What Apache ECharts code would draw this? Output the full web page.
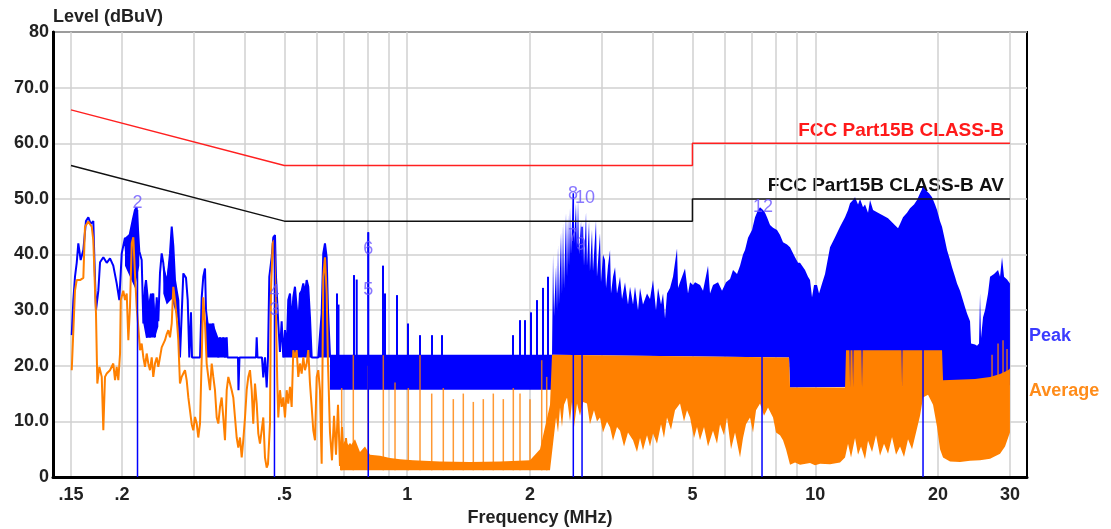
<!DOCTYPE html>
<html>
<head>
<meta charset="utf-8">
<style>
html,body{margin:0;padding:0;background:#fff}
#main{width:1111px;height:529px}
</style>
<script src="https://cdn.jsdelivr.net/npm/echarts@6/dist/echarts.min.js"></script>
</head>
<body>
<div id="main"></div>
<script>
// limit lines (FCC Part15B class B, QP and AV)
const limitFreq = [0.15, 0.5, 5, 5, 30];
const qpLimit = [66, 56, 56, 60, 60];
const avLimit = [56, 46, 46, 50, 50];

// x axis grid lines and labels (MHz)
const gridFreq = [0.15, 0.2, 0.3, 0.4, 0.5, 0.6, 0.7, 0.8, 0.9, 1, 2, 3, 4, 5, 6, 7, 8, 9, 10, 20, 30];
const labelFreq = [0.15, 0.2, 0.5, 1, 2, 5, 10, 20, 30];

// Peak trace, low band part [MHz, dBuV]
const peakTrace = [[0.1506,25.5],[0.1520,31.8],[0.1534,36],[0.1549,38.5],[0.1563,42],[0.1584,39],[0.1608,40.8],[0.1632,46],[0.1654,46.7],[0.1676,45.5],[0.1701,46],[0.1711,39.5],[0.1727,30],[0.1750,33.5],[0.1767,38.6],[0.1800,39.5],[0.1835,38.5],[0.1869,39.3],[0.1904,38],[0.1941,34.8],[0.1970,31.8],[0.1997,40.2],[0.2034,43],[0.2054,38.5],[0.2092,43.8],[0.2125,46.2],[0.2152,48],[0.2173,48.5],[0.2205,40.6],[0.2235,39],[0.2256,27.6],[0.2277,34],[0.2290,35.4],[0.2320,31],[0.2342,25.1],[0.2365,30],[0.2386,33],[0.2409,25.1],[0.2433,32.3],[0.2455,28],[0.2478,36.6],[0.2502,40.2],[0.2525,38.5],[0.2549,34.8],[0.2574,33.5],[0.2597,37],[0.2622,40.2],[0.2648,45],[0.2672,41.5],[0.2697,35.4],[0.2723,33.5],[0.2748,31.8],[0.2774,21.5],[0.2827,36.6],[0.2870,35.8],[0.2898,31.8],[0.2924,21.5],[0.2935,21.5],[0.2952,29.6],[0.2969,21.5],[0.3106,21.5],[0.3136,32.3],[0.3164,36],[0.3195,37.5],[0.3213,30],[0.3255,26.4],[0.3286,23.3],[0.3348,27.6],[0.3380,23.3],[0.3413,25.1],[0.3444,21.5],[0.3477,25.1],[0.3510,23.3],[0.3542,25.1],[0.3576,21.5],[0.3611,25.1],[0.3627,21.5],[0.3848,21.5],[0.3859,15.6],[0.3881,21.5],[0.4260,21.5],[0.4277,25.1],[0.4296,21.5],[0.4406,21.5],[0.4439,17.9],[0.4482,21.5],[0.4525,16.1],[0.4558,21.5],[0.4592,36],[0.4654,39.5],[0.4697,43.1],[0.4742,43.5],[0.4769,36],[0.4831,27.6],[0.4877,22.5],[0.4924,28],[0.4969,21.5],[0.5017,26.4],[0.5065,22.5],[0.5111,31.8],[0.5161,33],[0.5210,27.6],[0.5258,32.3],[0.5308,34.2],[0.5359,30.5],[0.5408,27.6],[0.5460,33],[0.5513,33.5],[0.5563,34.8],[0.5616,33],[0.5670,35.4],[0.5722,34.2],[0.5777,28.7],[0.5833,21.5],[0.6054,21.5],[0.6112,25.5],[0.6171,29.4],[0.6227,40.2],[0.6287,42],[0.6348,39.5],[0.6395,30],[0.6467,21.9]];

// dense patches of the Peak trace below 0.4 MHz: upper and lower edges
const peakPatchTopA = [[0.2034,43],[0.2092,43.8],[0.2125,46.2],[0.2152,48],[0.2173,48.5],[0.2205,40.6]];
const peakPatchBotA = [[0.2034,38],[0.2092,36],[0.2152,34],[0.2205,38]];
const peakPatchTopB = [[0.2256,27.6],[0.2277,34],[0.2290,35.4],[0.2320,31],[0.2342,33],[0.2386,33],[0.2409,30],[0.2433,32.3],[0.2455,30]];
const peakPatchBotB = [[0.2256,27.6],[0.2290,25],[0.2342,25.1],[0.2409,25.1],[0.2455,27]];
const peakPatchTopC = [[0.2525,38.5],[0.2574,36],[0.2622,40.2],[0.2648,45],[0.2672,41.5],[0.2697,35.4],[0.2748,31.8]];
const peakPatchBotC = [[0.2525,33],[0.2574,31],[0.2648,32],[0.2748,28]];
const peakPatchTopD = [[0.3213,30],[0.3255,27.6],[0.3348,27.6],[0.3444,25.1],[0.3542,25.1],[0.3611,25.1],[0.3627,21.5]];
const peakPatchBotD = [[0.3213,21.5],[0.3627,21.5]];

// Peak dense band above 0.5 MHz: upper edge and floor
const peakTop = [[0.4969,21.5],[0.5017,26.4],[0.5065,22.5],[0.5111,31.8],[0.5161,33],[0.5210,27.6],[0.5258,32.3],[0.5308,34.2],[0.5359,30.5],[0.5408,27.6],[0.5460,33],[0.5513,33.5],[0.5563,34.8],[0.5616,33],[0.5670,35.4],[0.5722,34.2],[0.5777,28.7],[0.5833,21.5],[0.6054,21.5],[0.6112,25.5],[0.6171,29.4],[0.6227,40.2],[0.6287,42],[0.6348,39.5],[0.6395,30],[0.6467,22],[2.264,22],
  [2.277,40],[2.290,29],[2.316,38],[2.329,30],[2.342,41.6],[2.355,31],[2.382,44],[2.395,33],[2.409,45.6],[2.423,34],[2.450,47.4],[2.464,36],[2.478,47],[2.492,38],[2.506,48.5],[2.520,40],[2.549,51.5],[2.563,42],[2.592,49.2],[2.607,41],[2.622,50],[2.637,40],[2.667,46],[2.682,39],[2.697,45.6],[2.712,38],[2.743,47.6],[2.758,38],[2.790,46],[2.805,37],[2.837,44.5],[2.853,37],[2.902,46.1],[2.918,36],[2.968,43.8],[2.985,35],[3.019,40],[3.053,39],[3.071,34],[3.105,38],[3.141,40.8],[3.158,33],[3.194,36],[3.231,37.7],[3.267,33],[3.323,36],[3.361,32],[3.418,35],[3.476,31],[3.516,34.2],[3.576,31],[3.616,34.2],[3.678,30],[3.720,34],[3.783,31],[3.870,33],[3.936,32],[4.003,35.4],[4.071,30],[4.118,34],[4.188,31],[4.236,33],[4.284,28.5],[4.332,33],[4.406,34],[4.481,36],[4.584,41.1],[4.610,34],[4.662,35],[4.795,37.5],[4.877,33],[4.933,35],[5.017,34.5],[5.074,35],[5.219,34.5],[5.308,33.5],[5.460,38],[5.522,33],[5.616,34.5],[5.777,35],[5.909,33.5],[6.044,35],[6.182,35.6],[6.287,37.2],[6.431,36.5],[6.541,38],[6.652,40],[6.728,40.8],[6.843,43],[6.999,44.4],[7.119,46.7],[7.240,48],[7.322,48.5],[7.447,48],[7.532,47.5],[7.617,46.7],[7.747,45.3],[7.880,44.8],[8.059,44.4],[8.197,43.5],[8.337,42.2],[8.527,41.8],[8.673,41.3],[8.921,39.5],[9.074,38.5],[9.177,38.5],[9.439,37.2],[9.600,36],[9.709,35.4],[9.819,32.3],[9.931,34.5],[10.100,34.5],[10.215,33],[10.390,34.8],[10.567,36.5],[10.869,41.3],[11.180,43.1],[11.500,45],[11.829,46.7],[12.031,48],[12.168,49.2],[12.376,49.8],[12.516,50.3],[12.730,49],[12.874,50],[13.094,48.5],[13.242,49],[13.469,47.5],[13.622,49.8],[13.855,48],[14.171,47.6],[14.658,47],[15.078,46.5],[15.509,45.6],[15.953,44.7],[16.134,45.5],[16.409,46.7],[16.784,47.5],[17.071,48.3],[17.461,49],[17.759,49.8],[18.062,51],[18.370,52.1],[18.684,51.5],[19.003,51],[19.328,50.3],[19.658,49],[19.881,48],[20.220,46],[20.449,45],[20.799,42.5],[21.035,40.8],[21.394,39],[21.637,37.7],[22.006,36],[22.256,34.8],[22.636,33.5],[22.893,32.3],[23.284,30.5],[23.548,29.4],[23.950,28],[24.086,24],[24.635,23.8],[24.915,23.6],[25.198,24],[25.341,33],[25.484,25],[25.774,28.7],[26.066,30],[26.511,33],[26.812,36],[27.424,36.5],[28.050,37.2],[28.368,36],[28.690,39.5],[29.016,36],[29.511,35.5],[30,34.8]];
const peakFloor = [[0.4969,21.5],[0.6467,21.5],[0.6468,15.7],[2.264,15.7],[2.270,22],[8.624,21.5],[8.673,16.1],[30,16.5]];

// Peak narrow spikes above the 0.65-2.3 MHz band [MHz, from, to]
const peakSpikes = [[0.6729,21.9,33],[0.6786,21.9,31],[0.7406,21.9,36.3],[0.7520,21.9,35.5],[0.8028,21.9,44],[0.8723,21.9,38],[0.8822,21.9,33],[0.9441,21.9,32.7],[1.0045,21.9,27.6],[1.0749,21.9,25.5],[1.1502,21.9,25.5],[1.2170,21.9,25.5],[1.8167,21.9,25.5],[1.8899,21.9,28.2],[1.9440,21.9,28.2],[2.0109,21.9,29.6],[2.0802,21.9,31.8],[2.1518,21.9,34],[2.2134,21.9,36]];
// Peak drop-outs to the floor
const peakDrops = [[0.2183,0,48],[0.4728,0,43],[0.8028,0,44],[2.553,0,51],[2.682,0,45],[7.405,0,48],[18.370,0,52]];

// Average trace, low band part
const avgTrace = [[0.1506,19.2],[0.1520,19],[0.1534,33.5],[0.1549,35.4],[0.1578,35.4],[0.1608,35.8],[0.1623,45],[0.1654,45.9],[0.1686,45],[0.1701,42.6],[0.1718,33.5],[0.1727,29.4],[0.1740,16.8],[0.1760,19.8],[0.1784,18],[0.1800,8.4],[0.1817,18],[0.1835,18.6],[0.1869,19.2],[0.1904,20.4],[0.1923,17.4],[0.1941,19.8],[0.1959,17.4],[0.1978,22.2],[0.1986,31.8],[0.2015,33.5],[0.2034,31.8],[0.2054,33],[0.2073,24.6],[0.2092,30.5],[0.2113,42],[0.2132,43.1],[0.2152,36.5],[0.2173,30.5],[0.2193,26.9],[0.2214,22.8],[0.2235,24],[0.2256,21.5],[0.2277,19.8],[0.2299,22.2],[0.2320,20.4],[0.2342,19.2],[0.2365,21.5],[0.2386,18],[0.2409,20.4],[0.2433,21.5],[0.2455,19.8],[0.2478,21.5],[0.2502,23.3],[0.2549,24.6],[0.2574,25.7],[0.2597,26.4],[0.2622,25.1],[0.2648,27.6],[0.2672,34.2],[0.2697,31.8],[0.2723,28.7],[0.2748,24.6],[0.2774,16.8],[0.2801,18],[0.2827,18.6],[0.2854,19.2],[0.2881,17.4],[0.2908,14.3],[0.2935,14.3],[0.2964,9.5],[0.2991,8.4],[0.3020,10.8],[0.3049,9.6],[0.3076,7.1],[0.3106,9.6],[0.3136,21.5],[0.3164,32.3],[0.3195,27.6],[0.3225,20.4],[0.3255,18],[0.3286,15.6],[0.3318,20.4],[0.3348,18],[0.3380,15.6],[0.3413,10.7],[0.3444,9.6],[0.3477,12.6],[0.3510,14.3],[0.3542,10.7],[0.3576,6.6],[0.3611,15.6],[0.3644,18],[0.3679,16.8],[0.3714,15.6],[0.3748,14.3],[0.3784,10.7],[0.3820,7.1],[0.3855,5.3],[0.3892,7.1],[0.3930,3.5],[0.3965,6.6],[0.4004,10.7],[0.4042,15.6],[0.4079,18],[0.4118,19.2],[0.4158,15.6],[0.4195,9.6],[0.4236,16.8],[0.4277,13.2],[0.4316,7.8],[0.4357,6],[0.4399,8.4],[0.4439,10.7],[0.4482,3.5],[0.4525,1.7],[0.4558,2.3],[0.4610,9.6],[0.4636,33.5],[0.4681,42],[0.4715,42.6],[0.4742,36.6],[0.4769,28.7],[0.4804,16.8],[0.4831,10.7],[0.4877,15.6],[0.4924,12.6],[0.4969,14.3],[0.5017,10.7],[0.5065,15.6],[0.5111,13.2],[0.5161,16.2],[0.5210,12.6],[0.5258,22.8],[0.5308,21.5],[0.5359,22.8],[0.5408,18],[0.5460,20.4],[0.5513,18.6],[0.5563,21.5],[0.5616,19.2],[0.5670,20.4],[0.5722,22.8],[0.5777,16.8],[0.5833,12.6],[0.5886,8.4],[0.5943,6.6],[0.6000,18],[0.6054,19.2],[0.6112,15.6],[0.6171,2.4],[0.6227,36],[0.6287,39.5],[0.6348,33],[0.6395,20.4],[0.6468,8],[0.6541,3],[0.6616,11],[0.6691,4],[0.6767,13],[0.6843,2],[0.6921,9],[0.6999,1.5],[0.7079,7],[0.7159,3],[0.7241,6],[0.7323,1.5]];

// Average dense band: upper edge and lower edge
const avgTop = [[0.6843,5],[0.7039,6.5],[0.7241,5.5],[0.7448,6.8],[0.7661,4.5],[0.7880,5.5],[0.8106,4],[0.8577,3.8],[0.9075,3.4],[0.9602,3.2],[1.0332,3],[1.2033,2.8],[1.4253,2.7],[1.6882,2.8],[1.9996,3],[2.1157,5],[2.1763,9],[2.2385,13],[2.264,22],[8.624,21.5],[8.673,16.1],[11.829,16.1],[11.896,22.8],[12.13,22.8],[12.17,16.1],[12.20,22.8],[12.34,22.8],[12.38,16.1],[12.41,22.8],[12.98,22.8],[13.02,16.1],[13.06,22.8],[16.27,22.8],[16.32,16.1],[16.36,22.8],[20.449,22.8],[20.565,17.4],[24.635,17.6],[26.812,18],[28.368,18.5],[29.678,19.2],[30,19.5]];
const avgBottom = [[0.6843,1.2],[2.2385,1.2],[2.277,6],[2.316,10.7],[2.342,8],[2.3685,12.5],[2.395,9],[2.423,13],[2.464,14.3],[2.506,10],[2.534,13.5],[2.563,9],[2.607,13.2],[2.6515,11],[2.697,13.5],[2.758,13.2],[2.805,9.5],[2.869,12],[2.918,10],[2.968,10.7],[3.019,8],[3.088,10],[3.141,8.9],[3.194,6.5],[3.267,9],[3.323,8.3],[3.399,5.5],[3.476,8],[3.576,6.6],[3.657,4.5],[3.720,7],[3.783,4.8],[3.870,7.5],[3.936,5.5],[4.003,7.8],[4.094,6],[4.188,9.5],[4.259,7],[4.332,10.7],[4.431,8.5],[4.532,12],[4.662,13.2],[4.768,10],[4.850,12],[4.933,10.7],[5.045,7],[5.131,9],[5.219,6.6],[5.338,9],[5.460,5.5],[5.616,8.3],[5.744,6],[5.843,9.5],[5.976,7.5],[6.078,10.7],[6.217,5],[6.359,8],[6.541,3.5],[6.652,7],[6.766,9.5],[6.920,10.7],[7.039,8],[7.159,12],[7.322,13.2],[7.489,11],[7.660,12.5],[7.880,10.7],[8.014,8],[8.197,7.5],[8.337,6.6],[8.479,5],[8.673,2.2],[8.921,2.6],[9.177,2.2],[9.709,2.5],[9.987,2.1],[10.273,2.4],[10.869,2.3],[11.500,2.6],[11.829,3.5],[12.031,6],[12.237,3.5],[12.516,7],[12.730,4],[12.947,5.5],[13.242,3.2],[13.469,6.5],[13.777,4.5],[14.091,7.5],[14.412,3.8],[14.741,6],[15.078,4.2],[15.422,7.2],[15.774,4],[16.134,5.5],[16.502,3.6],[16.879,6.8],[17.265,5],[17.659,8],[18.062,11],[18.370,14.3],[18.896,14.8],[19.437,13],[19.881,9],[20.220,5],[20.565,3.5],[21.394,2.8],[22.636,2.7],[23.950,2.9],[25.341,3],[26.812,3.3],[28.368,4.2],[29.180,5.5],[30,8]];

// Average narrow spikes [MHz, from, to]
const avgSpikes = [[0.6909,1.2,16],[0.7377,1.2,22],[0.8028,1.2,20],[0.8738,1.2,28],[0.9335,1.2,17],[1.0062,1.2,16],[1.0749,1.2,22],[1.1483,1.2,15],[1.2259,1.2,16],[1.2971,1.2,14],[1.3724,1.2,15],[1.4521,1.2,13.5],[1.5363,1.2,14],[1.6256,1.2,15],[1.7199,1.2,14],[1.8198,1.2,16],[1.8899,1.2,15],[1.9996,1.2,14],[2.1361,1.2,21],[2.1972,1.2,18],[27.116,17,22],[28.050,17,24],[28.852,17,24.6],[29.511,17,23]];

// numbered markers
const markerFreq = [0.2183, 0.4728, 0.4728, 0.8028, 0.8028, 2.549, 2.549, 2.667, 2.727, 7.447];
const markerLevel = [49.2, 30.0, 33.2, 33.6, 40.9, 43.3, 50.8, 41.7, 50.1, 48.5];
const markerText = ['2', '3', '4', '5', '6', '7', '8', '9', '10', '12'];

const BLUE = '#0000ff';
const ORANGE = '#ff8000';
const FONT = 'Liberation Sans, Arial, sans-serif';

let myChart = echarts.init(document.getElementById('main'));

let bandSeries = function (name, top, bottom, color, z) {
    return {
        type: 'custom', name: name, z: z, silent: true,
        encode: {x: 0, y: 1},
        data: [[1, 40]],
        renderItem: function (params, api) {
            let pts = [];
            for (let i = 0; i < top.length; i++) pts.push(api.coord(top[i]));
            for (let i = bottom.length - 1; i >= 0; i--) pts.push(api.coord(bottom[i]));
            return {type: 'polygon', shape: {points: pts}, style: {fill: color}};
        }
    };
};

let stickSeries = function (name, sticks, color, width, opacity, z) {
    return {
        type: 'custom', name: name, z: z, silent: true,
        encode: {x: 0, y: [1, 2]},
        data: sticks,
        renderItem: function (params, api) {
            let a = api.coord([api.value(0), api.value(1)]);
            let b = api.coord([api.value(0), api.value(2)]);
            return {
                type: 'line',
                shape: {x1: a[0], y1: a[1], x2: b[0], y2: b[1]},
                style: {stroke: color, lineWidth: width, opacity: opacity}
            };
        }
    };
};

let zip = function (xs, ys) {
    let out = [];
    for (let i = 0; i < xs.length; i++) out.push([xs[i], ys[i]]);
    return out;
};

let labelText = {color: '#222', fontSize: 18, fontWeight: 'bold', fontFamily: FONT};

let option = {
    animation: false,
    backgroundColor: '#fff',
    grid: {
        left: 53, right: 84, top: 32, bottom: 52,
        containLabel: false, outerBoundsMode: 'none',
        show: true, borderColor: '#000', borderWidth: 2, backgroundColor: '#fff'
    },
    xAxis: {
        type: 'log', logBase: 10, min: 0.1355, max: 33.03,
        name: 'Frequency (MHz)', nameLocation: 'middle', nameGap: 29,
        nameTextStyle: labelText,
        axisLine: {show: true, onZero: false, lineStyle: {color: '#000', width: 3}},
        axisTick: {show: false, customValues: gridFreq},
        axisLabel: Object.assign({
            customValues: labelFreq, margin: 9,
            formatter: function (v) { return v < 1 ? String(v).slice(1) : String(v); }
        }, labelText),
        splitLine: {show: true, lineStyle: {color: '#d0d0d0', width: 1.5}},
        minorTick: {show: false}, minorSplitLine: {show: false}
    },
    yAxis: {
        type: 'value', min: 0, max: 80, interval: 10,
        name: 'Level (dBuV)', nameLocation: 'end', nameGap: 15, nameMoveOverlap: false,
        nameTextStyle: Object.assign({align: 'left', verticalAlign: 'middle'}, labelText),
        axisLine: {show: true, lineStyle: {color: '#000', width: 3}},
        axisTick: {show: false},
        axisLabel: Object.assign({
            margin: 4,
            formatter: function (v) { return (v === 0 || v === 80) ? String(v) : v.toFixed(1); }
        }, labelText),
        splitLine: {show: true, lineStyle: {color: '#d0d0d0', width: 1.5}}
    },
    graphic: [
        {type: 'text', right: 107, top: 121, style: {text: 'FCC Part15B CLASS-B', fill: '#ff1a1a', font: 'bold 19px ' + FONT}},
        {type: 'text', right: 107, top: 176, style: {text: 'FCC Part15B CLASS-B AV', fill: '#111', font: 'bold 19px ' + FONT}},
        {type: 'text', left: 1029, top: 327, style: {text: 'Peak', fill: '#3b3bff', font: 'bold 18px ' + FONT}},
        {type: 'text', left: 1029, top: 382, style: {text: 'Average', fill: '#ff8c1a', font: 'bold 18px ' + FONT}}
    ],
    series: [
        bandSeries('peakBand', peakTop, peakFloor, BLUE, 2),
        bandSeries('peakPatchA', peakPatchTopA, peakPatchBotA, BLUE, 2),
        bandSeries('peakPatchB', peakPatchTopB, peakPatchBotB, BLUE, 2),
        bandSeries('peakPatchC', peakPatchTopC, peakPatchBotC, BLUE, 2),
        bandSeries('peakPatchD', peakPatchTopD, peakPatchBotD, BLUE, 2),
        stickSeries('avgSpikes', avgSpikes, ORANGE, 1.5, 0.8, 3),
        bandSeries('avgBand', avgTop, avgBottom, ORANGE, 3),
        stickSeries('peakSpikes', peakSpikes, BLUE, 2, 1, 4),
        {
            type: 'line', name: 'Peak', z: 4, silent: true, showSymbol: false,
            data: peakTrace, lineStyle: {color: BLUE, width: 2}
        },
        {
            type: 'line', name: 'Average', z: 5, silent: true, showSymbol: false,
            data: avgTrace, lineStyle: {color: ORANGE, width: 2}
        },
        stickSeries('peakDrops', peakDrops, BLUE, 1.5, 1, 6),
        {
            type: 'line', name: 'FCC Part15B CLASS-B', z: 7, silent: true, showSymbol: false,
            data: zip(limitFreq, qpLimit), lineStyle: {color: '#ff2020', width: 1.5}
        },
        {
            type: 'line', name: 'FCC Part15B CLASS-B AV', z: 7, silent: true, showSymbol: false,
            data: zip(limitFreq, avLimit), lineStyle: {color: '#111', width: 1.5}
        },
        {
            type: 'scatter', name: 'markers', z: 8, silent: true, symbol: 'circle', symbolSize: 1,
            itemStyle: {color: 'rgba(0,0,0,0)'},
            data: markerFreq.map(function (f, i) { return {name: markerText[i], value: [f, markerLevel[i]]}; }),
            label: {show: true, position: 'inside', formatter: '{b}', color: '#6a55ff', fontSize: 18, fontFamily: FONT}
        }
    ]
};

myChart.setOption(option);
</script>
</body>
</html>
